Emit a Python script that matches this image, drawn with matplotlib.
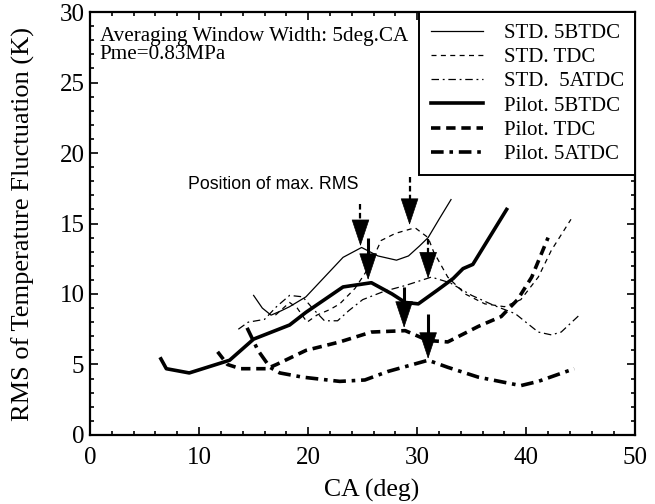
import matplotlib
matplotlib.use("Agg")
import matplotlib.pyplot as plt
from matplotlib.ticker import MultipleLocator

# ---------------- data ----------------
std_5btdc_x = [15.0, 15.8, 16.6, 17.5, 18.3, 19.8, 21.5, 23.2, 24.9, 26.4, 28.1, 29.2, 30.2, 31.0, 32.0, 33.1]
std_5btdc_y = [9.9, 9.0, 8.5, 8.8, 9.1, 9.8, 11.2, 12.6, 13.3, 12.7, 12.4, 12.7, 13.4, 14.0, 15.3, 16.7]

std_tdc_x = [17.0, 18.3, 19.0, 19.9, 20.8, 22.0, 22.9, 24.3, 25.5, 26.7, 28.0, 29.8, 31.0, 31.5, 32.8, 34.4, 36.2, 38.0, 39.5, 41.1, 42.3, 44.1]
std_tdc_y = [8.5, 9.4, 9.0, 8.0, 8.5, 8.9, 9.3, 10.4, 11.8, 13.8, 14.3, 14.7, 14.0, 13.0, 11.2, 10.0, 9.3, 9.1, 9.6, 11.2, 13.1, 15.3]

std_5atdc_x = [13.6, 14.5, 16.0, 17.1, 18.3, 19.5, 20.5, 21.5, 22.7, 23.7, 25.0, 27.0, 28.9, 31.3, 33.0, 35.0, 37.0, 39.0, 39.8, 41.1, 42.3, 43.2, 45.0]
std_5atdc_y = [7.5, 8.0, 8.2, 9.1, 9.9, 9.8, 8.9, 8.1, 8.1, 8.8, 9.6, 10.2, 10.6, 11.2, 10.8, 9.9, 9.2, 8.6, 8.1, 7.3, 7.1, 7.3, 8.6]

pilot_5btdc_x = [6.5, 7.0, 9.1, 12.8, 15.0, 18.3, 19.8, 23.2, 25.8, 27.7, 28.9, 30.1, 31.9, 33.3, 34.2, 35.1, 38.2]
pilot_5btdc_y = [5.4, 4.7, 4.4, 5.3, 6.8, 7.8, 8.7, 10.5, 10.8, 10.0, 9.4, 9.3, 10.3, 11.1, 11.8, 12.1, 16.0]

pilot_tdc_x = [11.7, 12.6, 13.8, 16.2, 17.1, 19.8, 22.9, 25.8, 28.9, 31.0, 32.8, 35.6, 37.7, 39.2, 40.5, 42.0]
pilot_tdc_y = [5.9, 5.0, 4.7, 4.7, 5.0, 6.0, 6.6, 7.3, 7.4, 6.7, 6.6, 7.7, 8.4, 9.6, 11.2, 14.0]

pilot_5atdc_x = [14.4, 15.4, 16.5, 17.4, 19.5, 22.9, 25.2, 27.3, 31.0, 32.8, 35.6, 39.5, 41.1, 44.4]
pilot_5atdc_y = [7.6, 6.0, 4.8, 4.4, 4.1, 3.8, 3.9, 4.5, 5.3, 4.8, 4.1, 3.5, 3.8, 4.7]

series_labels = ["STD. 5BTDC", "STD. TDC", "STD.  5ATDC", "Pilot. 5BTDC", "Pilot. TDC", "Pilot. 5ATDC"]

# arrows marking the position of max RMS: x, shaft top, tip
arrow_x = [24.8, 29.3, 31.0, 25.5, 28.8, 31.0]
arrow_top = [16.4, 18.3, 13.9, 14.0, 10.5, 8.6]
arrow_tip = [13.4, 14.9, 11.1, 11.0, 7.6, 5.4]
arrow_dashed = [True, True, True, False, False, False]

# ---------------- figure ----------------
serif = ["Liberation Serif", "DejaVu Serif"]
sans = ["Liberation Sans", "DejaVu Sans"]

fig = plt.figure(figsize=(6.55, 5.04), dpi=100)
ax = fig.add_axes([0.1374, 0.137, 0.8326, 0.839])

thin = 0.9
thick = 2.6
ax.plot(std_5btdc_x, std_5btdc_y, color="black", lw=thin, ls="-", label=series_labels[0])
ax.plot(std_tdc_x, std_tdc_y, color="black", lw=thin, ls=(0, (4, 3.5)), label=series_labels[1])
ax.plot(std_5atdc_x, std_5atdc_y, color="black", lw=thin, ls=(0, (6, 3, 1.5, 3)), label=series_labels[2])
ax.plot(pilot_5btdc_x, pilot_5btdc_y, color="black", lw=thick, ls="-", label=series_labels[3])
ax.plot(pilot_tdc_x, pilot_tdc_y, color="black", lw=thick, ls=(0, (2.6, 1.6)), label=series_labels[4])
ax.plot(pilot_5atdc_x, pilot_5atdc_y, color="black", lw=thick, ls=(0, (3.5, 1.6, 1.0, 1.6)), label=series_labels[5])

head_len = 1.8
for x, top, tip, dashed in zip(arrow_x, arrow_top, arrow_tip, arrow_dashed):
    base = tip + head_len
    ax.plot([x, x], [top, base - 0.1], color="black",
            lw=1.6 if dashed else 2.2,
            ls=(0, (2.5, 1.5)) if dashed else "-", solid_capstyle="butt")
    ax.annotate("", xy=(x, tip), xytext=(x, base),
                arrowprops=dict(arrowstyle="-|>,head_length=18,head_width=6",
                                mutation_scale=1, color="black", lw=0.5,
                                shrinkA=0, shrinkB=0))

ax.text(16.8, 17.8, "Position of max. RMS", fontsize=12.8, family=sans,
        ha="center", va="center")

ax.text(0.018, 0.964, "Averaging Window Width: 5deg.CA\nPme=0.83MPa",
        transform=ax.transAxes, fontsize=15.2, family=serif, ha="left", va="top",
        linespacing=0.88)

ax.set_xlim(0, 50)
ax.set_ylim(0, 30)
ax.xaxis.set_major_locator(MultipleLocator(10))
ax.xaxis.set_minor_locator(MultipleLocator(2))
ax.yaxis.set_major_locator(MultipleLocator(5))
ax.yaxis.set_minor_locator(MultipleLocator(1))
ax.tick_params(which="both", direction="in", top=True, right=True, width=1.2)
ax.tick_params(which="major", length=6, labelsize=18)
ax.tick_params(which="minor", length=3)
ax.tick_params(axis="x", which="major", pad=9)
ax.tick_params(axis="y", which="major", pad=4)
for lab in ax.get_xticklabels() + ax.get_yticklabels():
    lab.set_family(serif)
for s in ax.spines.values():
    s.set_linewidth(1.6)

ax.set_xlabel("CA (deg)", fontsize=18.5, family=serif, labelpad=1)
ax.xaxis.set_label_coords(0.516, -0.105)
ax.set_ylabel("RMS of Temperature Fluctuation (K)", fontsize=19, family=serif)
ax.yaxis.set_label_coords(-0.1, 0.5)

leg = ax.legend(loc="upper right", borderaxespad=0, fancybox=False,
                edgecolor="black", framealpha=1, prop={"family": serif, "size": 15},
                handlelength=2.5, handletextpad=1.0, labelspacing=0.22, borderpad=0.55)
leg.get_frame().set_linewidth(1.4)

fig.savefig("out.png", dpi=100)
